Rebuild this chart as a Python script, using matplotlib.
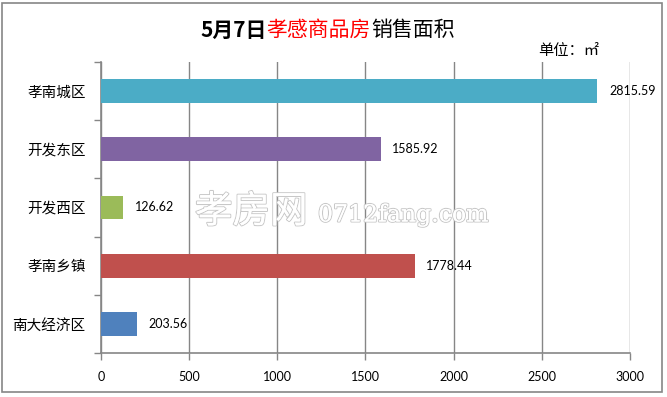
import matplotlib
matplotlib.use('Agg')
import matplotlib.pyplot as plt
import matplotlib.patheffects as pe
from matplotlib.patches import Rectangle

plt.rcParams['font.family'] = ['Noto Sans CJK SC', 'DejaVu Sans']

# data, top to bottom as in the chart
districts = ['孝南城区', '开发东区', '开发西区', '孝南乡镇', '南大经济区']
areas = [2815.59, 1585.92, 126.62, 1778.44, 203.56]
colors = ['#4BACC6', '#8064A2', '#9BBB59', '#C0504D', '#4F81BD']
xticks = [0, 500, 1000, 1500, 2000, 2500, 3000]

W, H = 667, 397
fig = plt.figure(figsize=(W / 100, H / 100), dpi=100)
fig.patch.set_facecolor('white')

# outer chart frame
fig.patches.append(Rectangle((2 / W, 1 - 392 / H), 660 / W, 389 / H,
                             transform=fig.transFigure, fill=False,
                             edgecolor='#868686', linewidth=1.2))

ax = fig.add_axes([101 / W, 1 - 353 / H, 529 / W, 291 / H])
ypos = list(range(len(districts)))[::-1]
ax.barh(ypos, areas, height=0.41, color=colors, zorder=3)

for y, v in zip(ypos, areas):
    ax.text(v + 65, y, '%.2f' % v, va='center', ha='left',
            fontsize=9, family='Lato', zorder=4)

ax.set_xlim(0, 3000)
ax.set_ylim(-0.5, len(districts) - 0.5)
ax.set_xticks(xticks)
ax.set_xticklabels([str(t) for t in xticks], family='Lato', fontsize=9)
ax.set_yticks(ypos)
ax.set_yticklabels(districts, fontsize=10.5)
ax.set_yticks([i - 0.5 for i in range(len(districts) + 1)], minor=True)
ax.tick_params(axis='y', which='major', length=0, pad=11)
ax.tick_params(axis='y', which='minor', length=5, color='#868686', width=1)
ax.tick_params(axis='x', length=5, color='#868686', width=1, pad=8)
ax.grid(axis='x', color='#868686', linewidth=1, zorder=0)
for s in ['top', 'right']:
    ax.spines[s].set_visible(False)
for s in ['left', 'bottom']:
    ax.spines[s].set_color('#868686')
    ax.spines[s].set_linewidth(1.2)

# watermark
wm = fig.text(195 / W, 1 - 212 / H, '孝房网', fontsize=27, color='white',
              va='center', ha='left', zorder=5)
wm.set_path_effects([pe.withStroke(linewidth=1.5, foreground='#c8c8c8'), pe.Normal()])
wm2 = fig.text(318 / W, 1 - 215 / H, '0712fang.com', fontsize=17, color='white',
               family='DejaVu Serif', va='center', ha='left', zorder=5)
wm2.set_path_effects([pe.withStroke(linewidth=1.5, foreground='#c8c8c8'), pe.Normal()])

# title in three colored pieces
fig.canvas.draw()
renderer = fig.canvas.get_renderer()
parts = [('5月7日', 'black', 'bold'), ('孝感商品房', 'red', 'medium'),
         ('销售面积', 'black', 'medium')]
x = 200 / W
for txt, c, w in parts:
    t = fig.text(x, 1 - 30 / H, txt, color=c, fontsize=15, fontweight=w,
                 va='center', ha='left')
    bb = t.get_window_extent(renderer)
    x += bb.width / W

fig.text(538 / W, 1 - 50 / H, '单位：㎡', fontsize=11, va='center', ha='left')

plt.savefig('out.png', dpi=100)
